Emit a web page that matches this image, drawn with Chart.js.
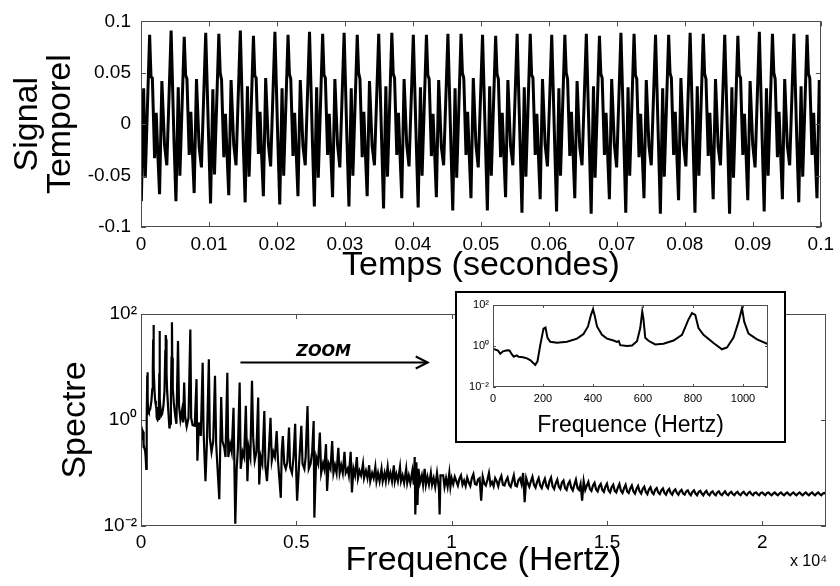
<!DOCTYPE html>
<html><head><meta charset="utf-8">
<script src="https://cdn.jsdelivr.net/npm/chart.js@4.4.0/dist/chart.umd.min.js"></script>
<style>
html,body{margin:0;padding:0;background:#fff;}
body{width:840px;height:586px;position:relative;overflow:hidden;font-family:"Liberation Sans",Arial,sans-serif;}
#c1{position:absolute;left:0;top:0;}
#c2{position:absolute;left:0;top:286px;}
#inset{position:absolute;left:455px;top:291px;width:331px;height:152px;border:2px solid #000;box-sizing:border-box;background:#fff;}
#c3{position:absolute;left:0;top:0;}
</style></head><body>
<canvas id="c1" width="840" height="290"></canvas>
<canvas id="c2" width="840" height="300"></canvas>
<div id="inset"><canvas id="c3" width="327" height="148"></canvas></div>
<script>
// ---------- Top panel: time signal (time in ms, amplitude) ----------
const timeMs = [0,
0.05,0.39,0.63,1.27,1.47,1.67,2.00,2.24,2.48,2.73,3.07,3.46,3.80,4.43,4.85,
5.14,5.48,5.72,6.36,6.56,6.76,7.09,7.33,7.57,7.82,8.16,8.55,8.89,9.52,9.94,
10.23,10.57,10.81,11.45,11.65,11.85,12.18,12.42,12.66,12.91,13.25,13.64,13.98,14.61,15.03,
15.32,15.66,15.90,16.54,16.74,16.94,17.27,17.51,17.75,18.00,18.34,18.73,19.07,19.70,20.12,
20.41,20.75,20.99,21.63,21.83,22.03,22.36,22.60,22.84,23.09,23.43,23.82,24.16,24.79,25.21,
25.50,25.84,26.08,26.72,26.92,27.12,27.45,27.69,27.93,28.18,28.52,28.91,29.25,29.88,30.30,
30.59,30.93,31.17,31.81,32.01,32.21,32.54,32.78,33.02,33.27,33.61,34.00,34.34,34.97,35.39,
35.68,36.02,36.26,36.90,37.10,37.30,37.63,37.87,38.11,38.36,38.70,39.09,39.43,40.06,40.48,
40.77,41.11,41.35,41.99,42.19,42.39,42.72,42.96,43.20,43.45,43.79,44.18,44.52,45.15,45.57,
45.86,46.20,46.44,47.08,47.28,47.48,47.81,48.05,48.29,48.54,48.88,49.27,49.61,50.24,50.66,
50.95,51.29,51.53,52.17,52.37,52.57,52.90,53.14,53.38,53.63,53.97,54.36,54.70,55.33,55.75,
56.04,56.38,56.62,57.26,57.46,57.66,57.99,58.23,58.47,58.72,59.06,59.45,59.79,60.42,60.84,
61.13,61.47,61.71,62.35,62.55,62.75,63.08,63.32,63.56,63.81,64.15,64.54,64.88,65.51,65.93,
66.22,66.56,66.80,67.44,67.64,67.84,68.17,68.41,68.65,68.90,69.24,69.63,69.97,70.60,71.02,
71.31,71.65,71.89,72.53,72.73,72.93,73.26,73.50,73.74,73.99,74.33,74.72,75.06,75.69,76.11,
76.40,76.74,76.98,77.62,77.82,78.02,78.35,78.59,78.83,79.08,79.42,79.81,80.15,80.78,81.20,
81.49,81.83,82.07,82.71,82.91,83.11,83.44,83.68,83.92,84.17,84.51,84.90,85.24,85.87,86.29,
86.58,86.92,87.16,87.80,88.00,88.20,88.53,88.77,89.01,89.26,89.60,89.99,90.33,90.96,91.38,
91.67,92.01,92.25,92.89,93.09,93.29,93.62,93.86,94.10,94.35,94.69,95.08,95.42,96.05,96.47,
96.76,97.10,97.34,97.98,98.18,98.38,98.71,98.95,99.19,99.44,99.78,100.00];

const signal = [-0.05,
-0.075,0.035,-0.052,0.087,0.046,0.045,-0.033,0.011,-0.030,-0.068,0.042,-0.020,-0.040,0.091,-0.015,
-0.075,0.036,-0.050,0.085,0.048,0.044,-0.030,0.012,-0.028,-0.067,0.044,-0.022,-0.042,0.089,-0.012,
-0.077,0.034,-0.049,0.088,0.050,0.043,-0.032,0.010,-0.030,-0.069,0.043,-0.020,-0.040,0.091,-0.016,
-0.076,0.037,-0.051,0.086,0.047,0.045,-0.029,0.012,-0.031,-0.070,0.045,-0.019,-0.041,0.090,-0.014,
-0.078,0.035,-0.050,0.087,0.049,0.044,-0.031,0.011,-0.029,-0.070,0.043,-0.021,-0.040,0.090,-0.015,
-0.080,0.036,-0.052,0.088,0.048,0.045,-0.030,0.010,-0.030,-0.071,0.044,-0.020,-0.042,0.089,-0.016,
-0.080,0.035,-0.050,0.087,0.050,0.044,-0.032,0.012,-0.030,-0.070,0.042,-0.021,-0.040,0.088,-0.014,
-0.082,0.037,-0.051,0.089,0.049,0.045,-0.030,0.011,-0.031,-0.072,0.044,-0.020,-0.041,0.087,-0.015,
-0.081,0.036,-0.050,0.087,0.048,0.044,-0.031,0.010,-0.029,-0.071,0.043,-0.022,-0.040,0.088,-0.016,
-0.084,0.035,-0.052,0.088,0.050,0.045,-0.030,0.012,-0.030,-0.072,0.045,-0.020,-0.042,0.087,-0.015,
-0.084,0.037,-0.050,0.086,0.049,0.044,-0.032,0.011,-0.030,-0.071,0.043,-0.021,-0.040,0.088,-0.014,
-0.086,0.036,-0.051,0.088,0.048,0.045,-0.030,0.010,-0.031,-0.073,0.044,-0.020,-0.041,0.087,-0.016,
-0.085,0.035,-0.050,0.087,0.050,0.044,-0.031,0.012,-0.029,-0.072,0.042,-0.022,-0.040,0.088,-0.015,
-0.087,0.037,-0.052,0.086,0.049,0.045,-0.030,0.011,-0.030,-0.073,0.044,-0.020,-0.042,0.089,-0.014,
-0.086,0.036,-0.050,0.088,0.048,0.044,-0.032,0.010,-0.030,-0.072,0.043,-0.021,-0.040,0.087,-0.016,
-0.087,0.035,-0.051,0.087,0.050,0.045,-0.030,0.012,-0.031,-0.074,0.045,-0.020,-0.041,0.089,-0.015,
-0.086,0.037,-0.050,0.088,0.049,0.044,-0.031,0.011,-0.029,-0.073,0.044,-0.022,-0.040,0.087,-0.014,
-0.087,0.036,-0.052,0.086,0.048,0.045,-0.030,0.010,-0.030,-0.074,0.042,-0.020,-0.042,0.090,-0.016,
-0.085,0.035,-0.050,0.088,0.050,0.044,-0.032,0.012,-0.030,-0.073,0.044,-0.021,-0.040,0.088,-0.015,
-0.076,0.037,-0.051,0.087,0.049,0.045,-0.030,0.011,-0.031,-0.072,0.043,0.010];

const timeTickValues = [0,10,20,30,40,50,60,70,80,90,100];
const timeTickLabels = ['0','0.01','0.02','0.03','0.04','0.05','0.06','0.07','0.08','0.09','0.1'];
const signalTickValues = [-0.1,-0.05,0,0.05,0.1];
const signalTickLabels = ['-0.1','-0.05','0','0.05','0.1'];

// ---------- Bottom panel: spectrum (Hz, magnitude) ----------
const spectrumHz = [
0,5,20,29,40,56,66,75,83,95,
103,120,136,150,169,178,189,202,210,218,
229,256,296,336,362,380,392,400,407,416,
436,456,482,496,503,509,536,556,576,589,
597,602,609,622,649,682,722,756,782,796,
809,822,842,882,916,936,962,982,996,1005,
1022,1056,1102,1140,1191,1225,1270,1320,1355,1390,
1420,1470,1530,1588,1615,1660,1730,1787,1815,1865,
1925,1985,2015,2075,2120,2184,2215,2270,2325,2382,
2420,2520,2581,2620,2680,2720,2779,2810,2870,2920,
2978,3035,3080,3120,3176,3210,3270,3320,3375,3425,
3465,3520,3573,3610,3660,3715,3772,3805,3855,3905,
3970,4005,4055,4105,4169,4210,4260,4310,4367,4410,
4500,4530,4566,4610,4660,4710,4764,4800,4860,4910,
4963,5000,5025,5090,5161,5200,5260,5300,5360,5400,
5460,5510,5558,5580,5640,5700,5757,5800,5860,5900,
5955,5990,6040,6100,6154,6195,6245,6295,6352,6395,
6445,6495,6551,6590,6650,6690,6749,6790,6840,6890,
6948,6985,7035,7085,7146,7180,7240,7290,7345,7380,
7440,7490,7543,7580,7630,7680,7742,7780,7840,7880,
7940,7980,8030,8080,8139,8170,8220,8270,8337,8370,
8420,8470,8536,8570,8620,8670,8734,8780,8810,8830,
8865,8900,8933,8980,9040,9080,9131,9170,9220,9270,
9330,9370,9420,9470,9528,9590,9613,9640,9727,9770,
9820,9870,9925,9960,
10000,10050,10100,10150,10200,10250,10300,10350,10400,10450,
10500,10550,10600,10650,10700,10750,10800,10850,10900,10950,
11000,11050,11100,11150,11200,11250,11300,11350,11400,11450,
11500,11550,11600,11650,11700,11750,11800,11850,11900,11950,
12000,12050,12100,12150,12200,12250,12300,12350,12400,12450,
12500,12550,12600,12650,12700,12750,12800,12850,12900,12950,
13000,13050,13100,13150,13200,13250,13300,13350,13400,13450,
13500,13550,13600,13650,13700,13750,13800,13850,13900,13950,
14000,14050,14100,14150,14200,14250,14300,14350,14400,14450,
14500,14550,14600,14650,14700,14750,14800,14850,14900,14950,
15000,15050,15100,15150,15200,15250,15300,15350,15400,15450,
15500,15550,15600,15650,15700,15750,15800,15850,15900,15950,
16000,16050,16100,16150,16200,16250,16300,16350,16400,16450,
16500,16550,16600,16650,16700,16750,16800,16850,16900,16950,
17000,17050,17100,17150,17200,17250,17300,17350,17400,17450,
17500,17550,17600,17650,17700,17750,17800,17850,17900,17950,
18000,18050,18100,18150,18200,18250,18300,18350,18400,18450,
18500,18550,18600,18650,18700,18750,18800,18850,18900,18950,
19000,19050,19100,19150,19200,19250,19300,19350,19400,19450,
19500,19550,19600,19650,19700,19750,19800,19850,19900,19950,
20000,20050,20100,20150,20200,20250,20300,20350,20400,20450,
20500,20550,20600,20650,20700,20750,20800,20850,20900,20950,
21000,21050,21100,21150,21200,21250,21300,21350,21400,21450,
21500,21550,21600,21650,21700,21750,21800,21850,21900,21950,
22000,22050];

const spectrumAmp = [
0.75,0.7,0.6,0.42,0.55,0.62,0.6,0.4,0.3,0.35,
0.3,0.28,0.25,0.2,0.12,0.18,1.1,7.0,8.0,2.5,
1.6,1.45,1.6,2.3,3.8,9,33,62,30,9,
3.5,2.3,1.85,1.6,1.75,1.1,1.0,1.05,1.7,7.5,
48,20,2.5,1.8,1.2,1.3,1.85,3.5,20,40,
33,7.5,3.5,1.4,0.69,0.85,2.6,15,70,15,
4,2.1,1.2,0.85,31,1.8,1.0,1.5,0.9,5.1,
1.2,0.75,1.1,51,1.1,0.8,0.78,5.9,0.17,0.9,
0.5,12,0.6,0.07,0.35,14,0.47,0.25,0.4,6.8,
0.35,0.032,2.7,0.4,0.3,0.2,7.8,0.2,0.35,0.25,
1.7,0.011,0.12,0.3,5.1,0.12,0.25,0.2,1.85,0.07,
0.3,0.2,5.5,0.47,0.17,0.25,2.65,0.061,0.2,0.15,
1.48,0.13,0.07,0.2,1.1,0.17,0.25,0.2,0.62,0.17,
0.034,0.25,0.5,0.15,0.12,0.16,0.72,0.13,0.1,0.2,
0.85,0.09,0.03,0.15,0.78,0.15,0.12,0.2,1.84,0.12,
0.15,0.25,0.96,0.0144,0.2,0.15,0.58,0.1,0.15,0.12,
0.35,0.046,0.15,0.12,0.4,0.1,0.14,0.1,0.3,0.1,
0.14,0.1,0.25,0.1,0.12,0.09,0.25,0.043,0.12,0.09,
0.2,0.08,0.11,0.09,0.15,0.08,0.11,0.08,0.14,0.07,
0.1,0.08,0.13,0.07,0.1,0.07,0.12,0.07,0.1,0.07,
0.13,0.075,0.1,0.07,0.14,0.07,0.095,0.07,0.13,0.07,
0.09,0.065,0.12,0.065,0.09,0.065,0.11,0.06,0.2,0.0165,
0.16,0.025,0.12,0.065,0.09,0.06,0.12,0.06,0.085,0.06,
0.1,0.06,0.08,0.055,0.1,0.05,0.0165,0.09,0.09,0.055,
0.08,0.055,0.1,0.055,
0.08,0.062,0.085,0.07,0.058,0.078,0.09,0.06,0.072,0.057,
0.082,0.066,0.057,0.08,0.095,0.062,0.06,0.076,0.08,0.03,
0.085,0.064,0.058,0.074,0.1,0.06,0.068,0.056,0.08,0.07,
0.056,0.075,0.088,0.06,0.058,0.072,0.082,0.06,0.055,0.07,
0.09,0.058,0.056,0.074,0.08,0.062,0.1,0.028,0.08,0.064,
0.055,0.07,0.085,0.06,0.053,0.068,0.08,0.058,0.052,0.066,
0.078,0.057,0.052,0.07,0.082,0.056,0.05,0.064,0.075,0.055,
0.05,0.066,0.072,0.052,0.048,0.062,0.07,0.053,0.047,0.06,
0.075,0.052,0.048,0.062,0.03,0.07,0.048,0.058,0.068,0.05,
0.046,0.058,0.065,0.049,0.045,0.056,0.062,0.048,0.044,0.055,
0.063,0.047,0.043,0.054,0.06,0.046,0.043,0.053,0.062,0.046,
0.042,0.052,0.06,0.045,0.042,0.051,0.058,0.045,0.041,0.05,
0.057,0.045,0.041,0.05,0.055,0.044,0.04,0.049,0.054,0.043,
0.04,0.048,0.052,0.043,0.04,0.047,0.051,0.042,0.039,0.046,
0.05,0.042,0.039,0.046,0.049,0.042,0.039,0.045,0.048,0.041,
0.039,0.045,0.047,0.041,0.038,0.044,0.047,0.041,0.038,0.044,
0.046,0.041,0.038,0.043,0.046,0.04,0.038,0.043,0.045,0.04,
0.038,0.043,0.045,0.04,0.038,0.042,0.045,0.04,0.038,0.042,
0.044,0.04,0.038,0.042,0.044,0.04,0.038,0.042,0.044,0.04,
0.038,0.042,0.044,0.04,0.038,0.042,0.043,0.04,0.038,0.042,
0.043,0.04,0.038,0.042,0.043,0.04,0.038,0.041,0.043,0.04,
0.038,0.041,0.043,0.04,0.038,0.041,0.043,0.04,0.038,0.041,
0.043,0.04,0.038,0.041,0.043,0.04,0.038,0.041,0.043,0.04,
0.038,0.041,0.043,0.04,0.038,0.041,0.043,0.04,0.038,0.041,
0.042,0.04];

const freqTickValues = [0,5000,10000,15000,20000];
const freqTickLabels = ['0','0.5','1','1.5','2'];
const specTickValues = [0.01,1,100];
const specTickLabels = ['10\u207B\u00B2','10\u2070','10\u00B2'];
const insetTickValues = [0,200,400,600,800,1000];
const insetTickLabels = ['0','200','400','600','800','1000'];

// annotation (arrow "ZOOM" drawn in data coordinates)
const zoomArrow = {fromHz:3200, toHz:9230, level:12.3, textHz:5880, textLevel:19, text:'ZOOM'};

// ---------- helpers ----------
const FAM = '"Liberation Sans", Arial, Helvetica, sans-serif';
Chart.defaults.font.family = FAM;
Chart.defaults.color = '#000';

const boxPlugin = {
  id:'matlabBox',
  afterDatasetsDraw(chart, args, opts){
    const {ctx, chartArea:a, scales} = chart;
    const L = opts.len || 5;
    ctx.save();
    ctx.strokeStyle = '#4d4d4d';
    ctx.lineWidth = 1;
    ctx.strokeRect(Math.round(a.left)+0.5, Math.round(a.top)+0.5, Math.round(a.right-a.left)-1, Math.round(a.bottom-a.top)-1);
    ctx.beginPath();
    scales.x.ticks.forEach(t=>{
      const p = Math.round(scales.x.getPixelForValue(t.value))+0.5;
      ctx.moveTo(p,a.bottom); ctx.lineTo(p,a.bottom-L);
      ctx.moveTo(p,a.top); ctx.lineTo(p,a.top+L);
    });
    scales.y.ticks.forEach(t=>{
      const p = Math.round(scales.y.getPixelForValue(t.value))+0.5;
      ctx.moveTo(a.left,p); ctx.lineTo(a.left+L,p);
      ctx.moveTo(a.right,p); ctx.lineTo(a.right-L,p);
    });
    ctx.stroke();
    ctx.restore();
  }
};

function fixTicks(vals){ return s => { s.ticks = vals.map(v=>({value:v})); }; }
function pts(xs, ys){ const n=Math.min(xs.length, ys.length); const o=[]; for(let i=0;i<n;i++) o.push({x:xs[i], y:ys[i]}); return o; }

// ---------- Top chart ----------
new Chart(document.getElementById('c1'), {
  type:'line',
  data:{datasets:[{data:pts(timeMs, signal), borderColor:'#000', borderWidth:3, pointRadius:0, tension:0, fill:false}]},
  options:{
    responsive:false, animation:false, events:[],
    layout:{padding:{left:0,right:14,top:15,bottom:0}},
    plugins:{legend:{display:false}, tooltip:{enabled:false}, matlabBox:{len:5}},
    scales:{
      x:{type:'linear', min:0, max:100,
        afterBuildTicks:fixTicks(timeTickValues), afterFit:s=>{s.height=63;},
        grid:{display:false, drawTicks:false}, border:{display:false},
        ticks:{padding:6, autoSkip:false, maxRotation:0, font:{size:19}, callback:(v,i)=>timeTickLabels[i]},
        title:{display:true, text:'Temps (secondes)', font:{size:34, lineHeight:1}, padding:{top:0,bottom:7}}},
      y:{type:'linear', min:-0.1, max:0.1,
        afterBuildTicks:fixTicks(signalTickValues), afterFit:s=>{s.width=141;},
        grid:{display:false, drawTicks:false}, border:{display:false},
        ticks:{padding:10, autoSkip:false, font:{size:19}, callback:(v,i)=>signalTickLabels[i]},
        title:{display:true, text:['Signal','Temporel'], font:{size:34, lineHeight:0.98}, padding:{top:11,bottom:0}}}
    }
  },
  plugins:[boxPlugin]
});

// ---------- Bottom chart ----------
const annotPlugin = {
  id:'zoomAnnot',
  afterDatasetsDraw(chart){
    const {ctx, scales:{x,y}} = chart;
    const x0 = x.getPixelForValue(zoomArrow.fromHz), x1 = x.getPixelForValue(zoomArrow.toHz);
    const yy = Math.round(y.getPixelForValue(zoomArrow.level))+0.5;
    ctx.save();
    ctx.strokeStyle = '#000'; ctx.lineWidth = 2; ctx.lineCap='butt';
    ctx.beginPath(); ctx.moveTo(x0,yy); ctx.lineTo(x1,yy); ctx.stroke();
    ctx.beginPath(); ctx.moveTo(x1-12,yy-6); ctx.lineTo(x1,yy); ctx.lineTo(x1-12,yy+6); ctx.stroke();
    ctx.fillStyle = '#000';
    ctx.font = 'italic bold 16px "DejaVu Sans", Verdana, sans-serif';
    ctx.textAlign = 'center'; ctx.textBaseline = 'middle';
    ctx.fillText(zoomArrow.text, x.getPixelForValue(zoomArrow.textHz), y.getPixelForValue(zoomArrow.textLevel));
    ctx.textAlign = 'right'; ctx.textBaseline = 'middle';
    ctx.font = '16px ' + FAM;
    ctx.fillText('x 10\u2074', x.right+1, chart.height-24);
    ctx.restore();
  }
};

new Chart(document.getElementById('c2'), {
  type:'line',
  data:{datasets:[{data:pts(spectrumHz, spectrumAmp), borderColor:'#000', borderWidth:2.2, pointRadius:0, tension:0, fill:false}]},
  options:{
    responsive:false, animation:false, events:[],
    layout:{padding:{left:0,right:14,top:28,bottom:0}},
    plugins:{legend:{display:false}, tooltip:{enabled:false}, matlabBox:{len:5}},
    scales:{
      x:{type:'linear', min:0, max:22050,
        afterBuildTicks:fixTicks(freqTickValues), afterFit:s=>{s.height=60;},
        grid:{display:false, drawTicks:false}, border:{display:false},
        ticks:{padding:5, autoSkip:false, maxRotation:0, font:{size:19}, callback:(v,i)=>freqTickLabels[i]},
        title:{display:true, text:'Frequence (Hertz)', font:{size:34, lineHeight:1}, padding:{top:0,bottom:8}}},
      y:{type:'logarithmic', min:0.01, max:100,
        afterBuildTicks:fixTicks(specTickValues), afterFit:s=>{s.width=141;},
        grid:{display:false, drawTicks:false}, border:{display:false},
        ticks:{padding:4, autoSkip:false, font:{size:19}, callback:(v,i)=>specTickLabels[i]},
        title:{display:true, text:'Spectre', font:{size:34, lineHeight:1}, padding:{top:59,bottom:0}}}
    }
  },
  plugins:[boxPlugin, annotPlugin]
});

// ---------- Inset chart (zoom 0-1100 Hz) ----------
new Chart(document.getElementById('c3'), {
  type:'line',
  data:{datasets:[{data:pts(spectrumHz, spectrumAmp), borderColor:'#000', borderWidth:2, pointRadius:0, tension:0, fill:false}]},
  options:{
    responsive:false, animation:false, events:[],
    layout:{padding:{left:0,right:16,top:12,bottom:0}},
    plugins:{legend:{display:false}, tooltip:{enabled:false}, matlabBox:{len:3}},
    scales:{
      x:{type:'linear', min:0, max:1100,
        afterBuildTicks:fixTicks(insetTickValues), afterFit:s=>{s.height=54;},
        grid:{display:false, drawTicks:false}, border:{display:false},
        ticks:{padding:5, autoSkip:false, maxRotation:0, font:{size:11}, callback:(v,i)=>insetTickLabels[i]},
        title:{display:true, text:'Frequence (Hertz)', font:{size:23, lineHeight:1}, padding:{top:0,bottom:4}}},
      y:{type:'logarithmic', min:0.01, max:100,
        afterBuildTicks:fixTicks(specTickValues), afterFit:s=>{s.width=36;},
        grid:{display:false, drawTicks:false}, border:{display:false},
        ticks:{padding:4, autoSkip:false, font:{size:11}, callback:(v,i)=>specTickLabels[i]},
        title:{display:false}}
    }
  },
  plugins:[boxPlugin]
});
</script>
</body></html>
